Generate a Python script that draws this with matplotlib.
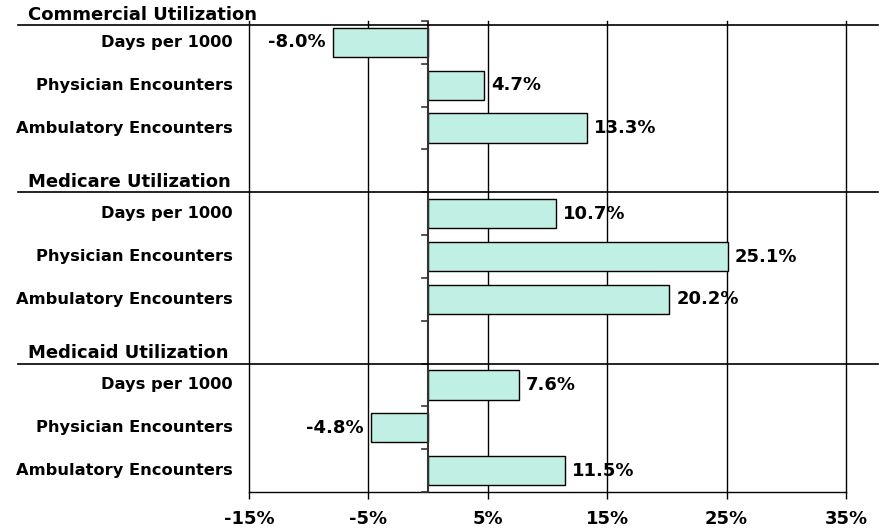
import matplotlib
matplotlib.use("Agg")
import matplotlib.pyplot as plt
import matplotlib.transforms as mtransforms

groups = ["Commercial Utilization", "Medicare Utilization", "Medicaid Utilization"]
metrics = ["Days per 1000", "Physician Encounters", "Ambulatory Encounters"]
commercial = [-8.0, 4.7, 13.3]
medicare = [10.7, 25.1, 20.2]
medicaid = [7.6, -4.8, 11.5]
series = [commercial, medicare, medicaid]
xticks = [-15, -5, 5, 15, 25, 35]
xticklabels = ["-15%", "-5%", "5%", "15%", "25%", "35%"]

W, H = 892, 529
fig = plt.figure(figsize=(W / 100, H / 100), dpi=100)
left, right, top, bottom = 249, 846, 21, 492
ax = fig.add_axes([left / W, (H - bottom) / H, (right - left) / W, (bottom - top) / H])

FS_CAT = 11.7
FS_HEAD = 13
FS_VAL = 13
FS_TICK = 13
bar_color = "#C0EFE3"

ypos, vals, labels = [], [], []
for g, vs in enumerate(series):
    for m, v in enumerate(vs):
        ypos.append(g * 4 + m + 0.5)
        vals.append(v)
        labels.append(metrics[m])

ax.barh(ypos, vals, height=0.68, color=bar_color, edgecolor="black", linewidth=1.0, zorder=3)

for y, v in zip(ypos, vals):
    if v >= 0:
        ax.annotate(f"{v:.1f}%", (v, y), xytext=(5, 0), textcoords="offset points",
                    ha="left", va="center", fontsize=FS_VAL, fontweight="bold", zorder=7)
    else:
        ax.annotate(f"{v:.1f}%", (v, y), xytext=(-5, 0), textcoords="offset points",
                    ha="right", va="center", fontsize=FS_VAL, fontweight="bold", zorder=7)

ax.set_xlim(-15, 35)
ax.set_ylim(11, 0)
ax.set_xticks(xticks)
ax.set_xticklabels(xticklabels, fontsize=FS_TICK, fontweight="bold")
ax.tick_params(axis="x", direction="out", length=5, width=1, pad=8, colors="black")
ax.set_yticks([])
for t in xticks:
    ax.axvline(t, color="black", linewidth=1, zorder=1, clip_on=False)

for s in ["top", "right", "left"]:
    ax.spines[s].set_visible(False)
ax.spines["bottom"].set_linewidth(1)

# category axis at x = 0
ax.axvline(0, color="#333333", linewidth=1.5, zorder=5)
for b in range(12):
    ax.plot([-0.5, 0], [b, b], color="#333333", linewidth=1.2, clip_on=False, zorder=5)

# category labels
trans_lab = mtransforms.blended_transform_factory(fig.transFigure, ax.transData)
for y, lab in zip(ypos, labels):
    ax.text(233 / W, y, lab, transform=trans_lab, ha="right", va="center",
            fontsize=FS_CAT, fontweight="bold")

# group headers with separator lines
for g, name in enumerate(groups):
    yl = g * 4 + (0.1 if g == 0 else 0.0)
    ax.plot([18 / W, 878 / W], [yl, yl], transform=trans_lab, color="black",
            linewidth=1.2, clip_on=False, zorder=6)
    ax.text(28 / W, yl - 0.04, name, transform=trans_lab, ha="left", va="bottom",
            fontsize=FS_HEAD, fontweight="bold")

fig.savefig("out.png", dpi=100)
